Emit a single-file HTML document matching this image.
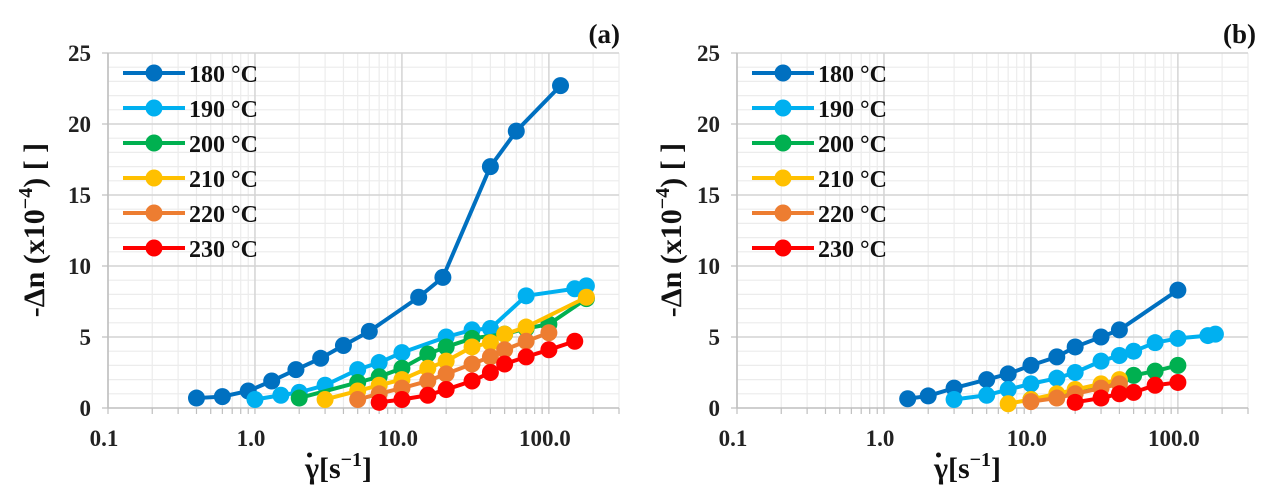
<!DOCTYPE html>
<html><head><meta charset="utf-8">
<style>
html,body{margin:0;padding:0;background:#fff;}
svg{display:block;font-family:"Liberation Serif",serif;}
</style></head>
<body>
<svg id="chart" width="1265" height="493" viewBox="0 0 1265 493"></svg>
<script>
const seriesNames = ["180 °C","190 °C","200 °C","210 °C","220 °C","230 °C"];
const seriesColors = ["#0070c0","#00b0f0","#00b050","#ffc000","#ed7d31","#ff0000"];
const xTickLabels = ["0.1","1.0","10.0","100.0"];
const xTickValues = [0.1,1,10,100];
const yTickValues = [0,5,10,15,20,25];

const a180 = [[0.4,0.7],[0.6,0.8],[0.9,1.2],[1.3,1.9],[1.9,2.7],[2.8,3.5],[4,4.4],[6,5.4],[13,7.8],[19,9.2],[40,17],[60,19.5],[120,22.7]];
const a190 = [[1.0,0.6],[1.5,0.9],[2,1.1],[3,1.6],[5,2.7],[7,3.2],[10,3.9],[20,5.0],[30,5.5],[40,5.6],[70,7.9],[150,8.4],[180,8.6]];
const a200 = [[2,0.7],[5,1.8],[7,2.2],[10,2.8],[15,3.8],[20,4.3],[30,4.9],[50,5.2],[70,5.6],[100,5.9],[180,7.7]];
const a210 = [[3,0.6],[5,1.2],[7,1.6],[10,2.0],[15,2.8],[20,3.3],[30,4.3],[40,4.6],[50,5.2],[70,5.7],[180,7.8]];
const a220 = [[5,0.6],[7,1.0],[10,1.4],[15,1.9],[20,2.4],[30,3.1],[40,3.6],[50,4.1],[70,4.7],[100,5.3]];
const a230 = [[7,0.4],[10,0.6],[15,0.9],[20,1.3],[30,1.9],[40,2.5],[50,3.1],[70,3.6],[100,4.1],[150,4.7]];

const b180 = [[1.45,0.65],[2,0.85],[3,1.4],[5,2.0],[7,2.4],[10,3.0],[15,3.6],[20,4.3],[30,5.0],[40,5.5],[100,8.3]];
const b190 = [[3,0.6],[5,0.9],[7,1.3],[10,1.7],[15,2.1],[20,2.5],[30,3.3],[40,3.7],[50,4.0],[70,4.6],[100,4.9],[160,5.1],[180,5.2]];
const b200 = [[10,0.6],[15,0.9],[20,1.1],[30,1.6],[40,1.9],[50,2.3],[70,2.6],[100,3.0]];
const b210 = [[7,0.3],[10,0.6],[15,1.0],[20,1.3],[30,1.7],[40,2.0]];
const b220 = [[10,0.45],[15,0.7],[20,1.0],[30,1.4],[40,1.7]];
const b230 = [[20,0.4],[30,0.7],[40,1.0],[50,1.1],[70,1.6],[100,1.8]];

const NS="http://www.w3.org/2000/svg";
const svg=document.getElementById('chart');
function mk(tag,attrs,parent){const e=document.createElementNS(NS,tag);for(const k in attrs)e.setAttribute(k,attrs[k]);(parent||svg).appendChild(e);return e;}

function panel(id,x0,x1,data,tag,tagX,titleX){
  const y0=53,y1=408,xmin=Math.log10(0.1),xmax=Math.log10(300);
  const xs=v=>x0+(Math.log10(v)-xmin)/(xmax-xmin)*(x1-x0);
  const ys=v=>y1-v/25*(y1-y0);
  const g=mk('g',{});
  
  
  for(let y=1;y<25;y++){if(y%5)mk('line',{x1:x0,x2:x1,y1:ys(y),y2:ys(y),stroke:'#ececec','stroke-width':1.2},g);}
  for(let d=0.1;d<300;d*=10){for(let m=2;m<=9;m++){const v=d*m;if(v<=300){const x=xs(v);mk('line',{x1:x,x2:x,y1:y0,y2:y1,stroke:'#ececec','stroke-width':1.2},g);}}}
  yTickValues.forEach(v=>{if(v>0)mk('line',{x1:x0,x2:x1,y1:ys(v),y2:ys(v),stroke:'#d4d4d4','stroke-width':1.5},g);});
  xTickValues.forEach(v=>{mk('line',{x1:xs(v),x2:xs(v),y1:y0,y2:y1,stroke:'#d4d4d4','stroke-width':1.5},g);});
  mk('line',{x1:x0,x2:x1,y1:y1,y2:y1,stroke:'#bfbfbf','stroke-width':1.5},g);
  mk('line',{x1:x0,x2:x0,y1:y0,y2:y1,stroke:'#bfbfbf','stroke-width':1.5},g);
  for(let d=0.1;d<300;d*=10){for(let m=1;m<=9;m++){const v=d*m;if(v<=300){const x=xs(v);mk('line',{x1:x,x2:x,y1:y1,y2:y1+6,stroke:'#bfbfbf','stroke-width':1.2},g);}}}
  yTickValues.forEach(v=>{mk('line',{x1:x0-6,x2:x0,y1:ys(v),y2:ys(v),stroke:'#bfbfbf','stroke-width':1.2},g);
    const t=mk('text',{x:x0-17,y:ys(v)+8,'text-anchor':'end','font-size':23,'font-weight':'bold',fill:'#222'},g);t.textContent=v;
    
    });
  xTickLabels.forEach((l,i)=>{const t=mk('text',{x:xs(xTickValues[i])-4,y:y1+38,'text-anchor':'middle','font-size':23,'font-weight':'bold',fill:'#222'},g);t.textContent=l;
    
    });
  data.forEach((s,i)=>{
    const sg=mk('g',{},g);
    
    
    mk('polyline',{points:s.map(p=>xs(p[0])+','+ys(p[1])).join(' '),fill:'none',stroke:seriesColors[i],'stroke-width':4,'stroke-linejoin':'round'},sg);
    s.forEach(p=>{const c=mk('circle',{cx:xs(p[0]),cy:ys(p[1]),r:8.5,fill:seriesColors[i]},sg);
      
      });
  });
  const lg=mk('g',{},g);
  
  
  seriesNames.forEach((n,i)=>{const ly=73+i*35;const lx=x0+15;
    mk('line',{x1:lx,x2:lx+62,y1:ly,y2:ly,stroke:seriesColors[i],'stroke-width':4},lg);
    mk('circle',{cx:lx+31,cy:ly,r:8.5,fill:seriesColors[i]},lg);
    const t=mk('text',{x:lx+66,y:ly+9,'font-size':24,'font-weight':'bold',fill:'#111'},lg);t.textContent=n;
    
    });
  const tt=mk('text',{x:tagX,y:43,'text-anchor':'end','font-size':27,'font-weight':'bold',fill:'#111'},g);tt.textContent=tag;
  
  
  const yt=mk('text',{x:0,y:0,transform:`translate(${titleX},230) rotate(-90)`,'text-anchor':'middle','font-size':30,'font-weight':'bold',fill:'#111'},g);
  yt.innerHTML='-Δn (x10<tspan dy="-12" font-size="20">−4</tspan><tspan dy="12">) [ ]</tspan>';
  
  
  const cx=(x0+x1)/2-25;
  const xt=mk('text',{x:cx,y:478,'text-anchor':'middle','font-size':30,'font-weight':'bold',fill:'#111'},g);
  xt.innerHTML='γ[s<tspan dy="-12" font-size="20">−1</tspan><tspan dy="12">]</tspan>';
  
  
  const dot=mk('circle',{cx:cx-29,cy:455,r:2.5,fill:'#111'},g);
  
  
}
panel('panel-a',108,619,[a180,a190,a200,a210,a220,a230],'(a)',620,44);
panel('panel-b',737,1248,[b180,b190,b200,b210,b220,b230],'(b)',1256,681);
</script>
</body></html>
